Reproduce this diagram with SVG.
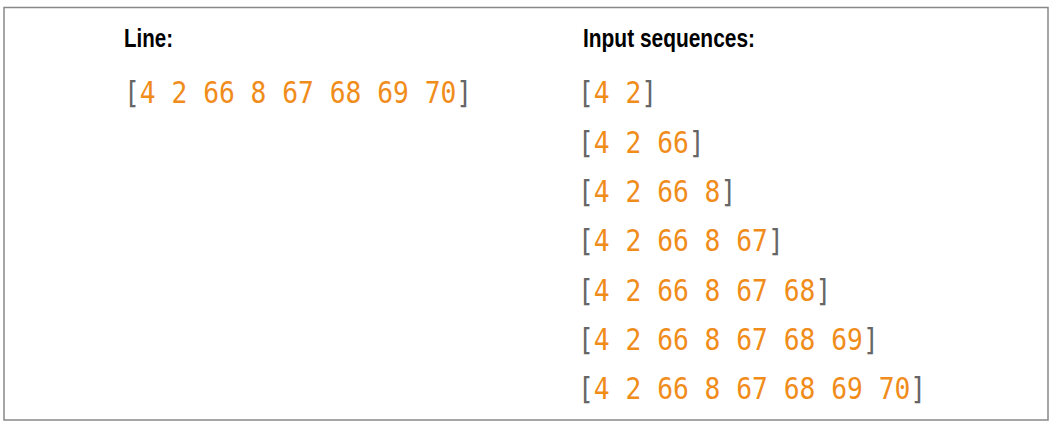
<svg xmlns="http://www.w3.org/2000/svg" width="1057" height="424" viewBox="0 0 1057 424">
<style>
.h{font-family:"Liberation Sans",Arial,sans-serif;font-weight:bold;font-size:25px;fill:#000}
.s{font-family:"DejaVu Sans Mono","Liberation Mono",monospace;font-size:26.3px;fill:#f08c1a}
.b{fill:#666}
</style>
<rect x="4" y="7.5" width="1044" height="412.5" fill="#fff" stroke="#888" stroke-width="1.5"/>
<g id="line-label"><text class="h" x="124" y="47" textLength="49" lengthAdjust="spacingAndGlyphs">Line:</text></g>
<g id="line-seq" transform="translate(0,103) scale(1,1.14)">
<text class="s" x="124" y="0"><tspan class="b">[</tspan>4 2 66 8 67 68 69 70<tspan class="b">]</tspan></text>
</g>
<g id="input-label"><text class="h" x="583" y="47" textLength="172" lengthAdjust="spacingAndGlyphs">Input sequences:</text></g>
<g id="inputs">
<g id="seq1" transform="translate(0,103) scale(1,1.14)"><text class="s" x="578" y="0"><tspan class="b">[</tspan>4 2<tspan class="b">]</tspan></text></g>
<g id="seq2" transform="translate(0,152.5) scale(1,1.14)"><text class="s" x="578" y="0"><tspan class="b">[</tspan>4 2 66<tspan class="b">]</tspan></text></g>
<g id="seq3" transform="translate(0,202) scale(1,1.14)"><text class="s" x="578" y="0"><tspan class="b">[</tspan>4 2 66 8<tspan class="b">]</tspan></text></g>
<g id="seq4" transform="translate(0,251) scale(1,1.14)"><text class="s" x="578" y="0"><tspan class="b">[</tspan>4 2 66 8 67<tspan class="b">]</tspan></text></g>
<g id="seq5" transform="translate(0,300.5) scale(1,1.14)"><text class="s" x="578" y="0"><tspan class="b">[</tspan>4 2 66 8 67 68<tspan class="b">]</tspan></text></g>
<g id="seq6" transform="translate(0,350) scale(1,1.14)"><text class="s" x="578" y="0"><tspan class="b">[</tspan>4 2 66 8 67 68 69<tspan class="b">]</tspan></text></g>
<g id="seq7" transform="translate(0,399) scale(1,1.14)"><text class="s" x="578" y="0"><tspan class="b">[</tspan>4 2 66 8 67 68 69 70<tspan class="b">]</tspan></text></g>
</g>
</svg>
